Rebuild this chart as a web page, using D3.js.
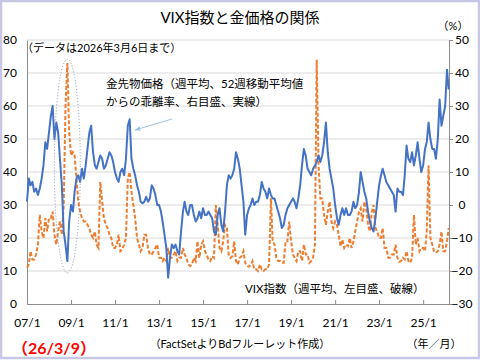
<!DOCTYPE html>
<html><head><meta charset="utf-8">
<script src="https://cdn.jsdelivr.net/npm/d3@7"></script>
<style>
html,body{margin:0;padding:0;background:#fff;}
text{font-family:Lato,"Noto Sans CJK JP",sans-serif;}
</style></head><body>
<svg id="c" width="480" height="360"></svg>
<script>
// monthly series starting 2007-01, last point 2026-03 (data to 2026-03-06)
const startMonth = "2007-01-01";
const endDate = "2026-03-06";
// VIX index (weekly avg, left axis)
const vix = [
 11,12,16,13.5,13.5,15,18,27,22,20,26,22,
 26,26,28,21,18,22,25,21,30,60,73,52,
 45,46,45,38,31,28,26,25,25,24,23,21,
 20,22,18,17,37,31,26,24,23,21,20,17,
 17,18,21,16,16.5,18,20,38,40,34,30,26,
 20,18,16,17,21,21,17,15,15,16,17,18,
 14,14,13,14,13,17,14,14,15,16,13,14,
 14,17,15,14,12,11.5,12,14,13,19,14,18,
 19,16,15,13.5,13,14.5,14,30,24,17,16,19,
 24,23,15,14,14.5,19,13,12,14,14.5,16,12.5,
 11.5,11.3,11.8,13,10.5,10.5,10,12,10.5,10,10.5,10.5,
 12,32,19,18,14,13,13,12.5,12.5,19,19,25,
 19,15,14,13,16,16,13,18,15,15,12.5,13,
 14,18,74,42,32,32,27,24,28,31,25,23,
 25,24,21,17.5,19.5,17,18,17.5,20,17,19,22,
 25,28,29,25,31,29,24,22,28,30,23,22,
 20,20,23,17,17,14,14,15,15,18,14,12.8,
 13,14,13.5,16,13,12.5,14,27,18,20,16,17,
 17,16,22,42,20,18,16,15.5,16,18,22,16,
 16,19,23
];
// Gold futures: deviation from 52-week MA (%, right axis)
const gold = [
 1,8,6,7,4,5,3,5,8,12,19,17,
 22,27,30,20,25,22,14,6,-8,-12,-17,-5,
 0,-2,4,8,9,7,11,8,12,17,22,24,
 16,12,11,13,15,14,11,12,14,16,15,13,
 10,8,7,10,11,9,14,24,26,14,11,9,
 6,4,1,0.5,1,2.5,1,2,6,5,3,0,
 0,-2,-5,-9,-13,-22,-16,-12,-13,-12,-14,-15,
 -8,-2,1,-2,-3,0,0,-3,-5,-4,-2,-4,
 -1,-3,-3,-2,-3,-4,-8,-9,-3,-1,-6,-8,
 -2,6,9,8,9,11,16,14,11,6,1,-9,
 -3,-1,0,2,0,1,1,3,7,5,4,2,
 5,3,2,2,0,-2,-4,-7,-6,-3,-1,0,
 1,2,1,-1,2,6,12,17,15,11,10,9,
 11,12,13,15,13,15,19,25,16,11,8,5,
 0,-4,-6,-3,-1,-3,-1,-3,-3,-2,1,-1,
 0,4,10,7,4,2,-2,-5,-7,-8,-4,1,
 6,9,11,9,7,6,5,4,3,-2,5,4,
 4,3,9,18,14,13,16,12,15,19,14,10,
 12,17,19,25,20,17,17,14,20,32,24,27,
 30,41,35
];
const leftTicks = [0,10,20,30,40,50,60,70,80];
const rightTicks = [50,40,30,20,10,0,-10,-20,-30];
const xTickYears = [2007,2009,2011,2013,2015,2017,2019,2021,2023,2025];
const xTickLabels = ["07/1","09/1","11/1","13/1","15/1","17/1","19/1","21/1","23/1","25/1"];

const svg = d3.select("#c");
const L=27, R=449, T=40, B=304;
const x = d3.scaleTime().domain([new Date(startMonth), new Date(endDate)]).range([L,R]);
const yL = d3.scaleLinear().domain([0,80]).range([B,T]);
const yR = d3.scaleLinear().domain([-30,50]).range([B,T]);
const t0 = new Date(startMonth);
const dates = vix.map((_,i)=>d3.timeMonth.offset(t0,i));

// frame
svg.append("rect").attr("x",1).attr("y",1).attr("width",478).attr("height",357)
  .attr("fill","none").attr("stroke","#c8c8e6").attr("stroke-width",2.5);

// gridlines
svg.append("g").selectAll("line").data(leftTicks.filter(d=>d>0)).join("line")
  .attr("x1",L).attr("x2",R).attr("y1",d=>yL(d)).attr("y2",d=>yL(d))
  .attr("stroke","#d9d9d9").attr("stroke-width",1);

// left axis
const gl = svg.append("g").attr("transform",`translate(${L},0)`)
  .call(d3.axisLeft(yL).tickValues(leftTicks).tickSize(0).tickPadding(10));
gl.select(".domain").attr("stroke","#8c8c8c");
gl.selectAll("text").attr("font-size",12).attr("fill","#000");

// right axis
const gr = svg.append("g").attr("transform",`translate(${R},0)`)
  .call(d3.axisRight(yR).tickValues(rightTicks).tickSize(4).tickPadding(3));
gr.select(".domain").attr("stroke","#8c8c8c");
gr.selectAll("line").attr("stroke","#8c8c8c");
gr.selectAll("text").attr("font-size",12).attr("fill","#000")
  .attr("text-anchor","middle").attr("x",13);

// bottom axis
const gb = svg.append("g").attr("transform",`translate(0,${B})`)
  .call(d3.axisBottom(x).tickValues(xTickYears.map(y=>new Date(y,0,1)))
    .tickSize(-4).tickPadding(14).tickFormat((d,i)=>xTickLabels[i]));
gb.select(".domain").attr("stroke","#8c8c8c");
gb.selectAll("line").attr("stroke","#8c8c8c");
gb.selectAll("text").attr("font-size",12).attr("fill","#000");

// VIX dashed line
svg.append("path").datum(vix)
  .attr("d", d3.line().x((d,i)=>x(dates[i])).y(d=>yL(d)))
  .attr("fill","none").attr("stroke","#ED7D31").attr("stroke-width",2)
  .attr("stroke-dasharray","4,2");

// Gold solid line
svg.append("path").datum(gold)
  .attr("d", d3.line().x((d,i)=>x(dates[i])).y(d=>yR(d)))
  .attr("fill","none").attr("stroke","#4472C4").attr("stroke-width",2)
  .attr("stroke-linejoin","round");

// dotted ellipse around 2008 crisis
svg.append("ellipse").attr("cx",x(new Date(2008,10,1))).attr("cy",166).attr("rx",13).attr("ry",107)
  .attr("fill","none").attr("stroke","#8497b0").attr("stroke-width",1).attr("stroke-dasharray","1,2");

// arrow
svg.append("defs").append("marker").attr("id","ah").attr("viewBox","0 0 10 10")
  .attr("refX",9).attr("refY",5).attr("markerWidth",6).attr("markerHeight",6).attr("orient","auto")
  .append("path").attr("d","M0,1 L10,5 L0,9 z").attr("fill","#9dc3e6");
svg.append("line").attr("x1",172).attr("y1",119).attr("x2",135).attr("y2",130)
  .attr("stroke","#9dc3e6").attr("stroke-width",1).attr("marker-end","url(#ah)");

// texts
const txt=(s,xx,yy,opt={})=>svg.append("text").text(s).attr("x",xx).attr("y",yy)
  .attr("font-size",opt.size||11).attr("fill",opt.fill||"#000")
  .attr("text-anchor",opt.anchor||"start").attr("dominant-baseline","central")
  .attr("font-weight",opt.weight||"normal");
txt("VIX指数と金価格の関係",240,17,{size:15,anchor:"middle"});
txt("（%）",453,25,{size:11,anchor:"middle"});
txt("（データは2026年3月6日まで）",22,47,{size:11});
txt("金先物価格（週平均、52週移動平均値",106,83,{size:11.5});
txt("からの乖離率、右目盛、実線）",106,101,{size:11.5});
txt("VIX指数（週平均、左目盛、破線）",245,288,{size:11.5});
txt("（FactSetよりBdフルーレット作成）",240,343,{size:11,anchor:"middle"});
txt("（年／月）",434,343,{size:11,anchor:"middle"});
txt("（26/3/9）",54,347,{size:16,anchor:"middle",fill:"#ff0000",weight:"bold"});
</script>
</body></html>
